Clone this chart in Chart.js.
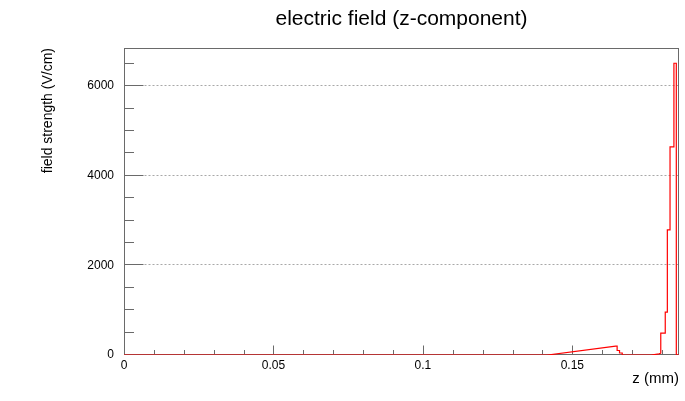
<!DOCTYPE html>
<html>
<head>
<meta charset="utf-8">
<script src="https://cdn.jsdelivr.net/npm/chart.js@4/dist/chart.umd.min.js"></script>
<style>
  html, body { margin: 0; padding: 0; background: #fff; }
  #wrap { width: 685px; height: 401px; position: relative; }
</style>
</head>
<body>
<div id="wrap"><canvas id="c" width="685" height="401"></canvas></div>
<script>
// ---- data ----
const chartTitle = 'electric field (z-component)';
const xTitle = 'z (mm)';
const yTitle = 'field strength (V/cm)';
const xMajorTicks = [0, 0.05, 0.1, 0.15];
const yMajorTicks = [0, 2000, 4000, 6000];
const xRange = [0, 0.1857];
const yRange = [0, 6850];
// z positions (mm) and field values (V/cm) of the step outline
const zPoints = [0, 0.1417, 0.1645, 0.1650, 0.1650, 0.1658, 0.1658, 0.1667, 0.1667, 0.1764, 0.1790, 0.1796,
                 0.1796, 0.1811, 0.1811, 0.1818, 0.1818, 0.1827, 0.1827, 0.1840, 0.1840, 0.1848, 0.1848, 0.1857];
const fieldValues = [0, 0, 196, 196, 100, 100, 45, 45, 0, 0, 25, 40,
                     486, 486, 955, 955, 2793, 2793, 4645, 4645, 6510, 6510, 0, 0];

const points = zPoints.map((z, i) => ({ x: z, y: fieldValues[i] }));

const FONT = "'Liberation Sans', Arial, Helvetica, sans-serif";

const framePlugin = {
  id: 'rootFrame',
  beforeDatasetsDraw(chart) {
    const { ctx, chartArea, scales } = chart;
    const { left, right, top, bottom } = chartArea;
    const x = scales.x, y = scales.y;
    const L = Math.round(left) + 0.5, R = Math.round(right) - 0.5;
    const T = Math.round(top) + 0.5, B = Math.round(bottom) - 0.5;
    ctx.save();
    // dotted horizontal grid
    ctx.lineWidth = 1;
    ctx.strokeStyle = '#a8a8a8';
    ctx.setLineDash([2, 2]);
    yMajorTicks.forEach(v => {
      if (v === yRange[0]) return;
      const py = Math.round(y.getPixelForValue(v)) - 0.5;
      ctx.beginPath(); ctx.moveTo(L, py); ctx.lineTo(R, py); ctx.stroke();
    });
    ctx.setLineDash([]);
    // ticks (inward)
    ctx.strokeStyle = '#6a6a6a';
    const yStep = 500;
    for (let v = yRange[0] + yStep; v < yRange[1]; v += yStep) {
      const major = yMajorTicks.includes(v);
      const py = Math.round(y.getPixelForValue(v)) - 0.5;
      ctx.beginPath(); ctx.moveTo(L, py); ctx.lineTo(L + (major ? 19 : 9.5), py); ctx.stroke();
    }
    const xStep = 0.01;
    for (let i = 1; i * xStep < xRange[1]; i++) {
      const v = +(i * xStep).toFixed(4);
      const major = xMajorTicks.some(t => Math.abs(t - v) < 1e-9);
      const px = Math.round(x.getPixelForValue(v)) + 0.5;
      ctx.beginPath(); ctx.moveTo(px, B); ctx.lineTo(px, B - (major ? 9 : 4.5)); ctx.stroke();
    }
    // frame
    ctx.strokeStyle = '#6a6a6a';
    ctx.strokeRect(L, T, R - L, B - T);
    ctx.restore();
  }
};

new Chart(document.getElementById('c'), {
  type: 'line',
  data: {
    datasets: [{
      data: points,
      borderColor: '#ff0000',
      borderWidth: 1.2,
      pointRadius: 0,
      tension: 0,
      fill: false
    }]
  },
  options: {
    responsive: false,
    animation: false,
    events: [],
    layout: { padding: { left: 0, right: 6, top: 0, bottom: 0 } },
    plugins: {
      legend: { display: false },
      tooltip: { enabled: false },
      title: {
        display: true,
        text: chartTitle,
        fullSize: false,
        color: '#000',
        font: { family: FONT, size: 21, weight: 'normal' },
        padding: { top: 7, bottom: 15.8 }
      }
    },
    scales: {
      x: {
        type: 'linear',
        min: xRange[0],
        max: xRange[1],
        afterBuildTicks: s => { s.ticks = xMajorTicks.map(v => ({ value: v })); },
        afterFit: s => { s.height = 46; },
        grid: { display: false, drawTicks: false },
        border: { display: false },
        ticks: {
          color: '#000',
          padding: 3,
          maxRotation: 0,
          font: { family: FONT, size: 12 },
          callback: v => String(v)
        },
        title: {
          display: true,
          text: xTitle,
          align: 'end',
          color: '#000',
          font: { family: FONT, size: 15 },
          padding: { top: 0, bottom: 13 }
        }
      },
      y: {
        type: 'linear',
        min: yRange[0],
        max: yRange[1],
        afterBuildTicks: s => { s.ticks = yMajorTicks.map(v => ({ value: v })); },
        afterFit: s => { s.width = 124; },
        grid: { display: false, drawTicks: false },
        border: { display: false },
        ticks: {
          color: '#000',
          padding: 10,
          font: { family: FONT, size: 12 },
          callback: v => String(v)
        },
        title: {
          display: true,
          text: yTitle,
          align: 'end',
          color: '#000',
          font: { family: FONT, size: 14 },
          padding: { top: 40, bottom: 0 }
        }
      }
    }
  },
  plugins: [framePlugin]
});
</script>
</body>
</html>
